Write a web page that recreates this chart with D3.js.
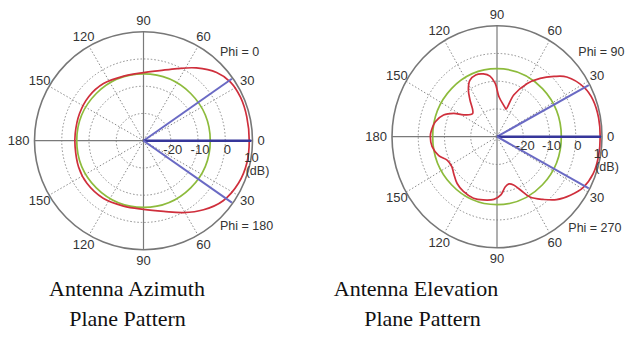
<!DOCTYPE html>
<html>
<head>
<meta charset="utf-8">
<script src="https://cdn.jsdelivr.net/npm/d3@7"></script>
<style>
  body { margin: 0; background: #fff; }
  svg { display: block; }
</style>
</head>
<body>
<svg width="633" height="345"></svg>
<script>
// angle tick labels going counter-clockwise from 0 deg (mirrored on lower half)
const angleTicks = [0, 30, 60, 90, 120, 150, 180, 210, 240, 270, 300, 330];
const angleLabels = ["0", "30", "60", "90", "120", "150", "180", "150", "120", "90", "60", "30"];
const ringTicks = [-20, -10, 0];
const radialLabels = ["-20", "-10", "0"];
const refLevel = -5.5;           // green reference circle, dB

// azimuth pattern (deg, dB)
const azAngles = [-175, -158, -143, -125, -107, -90, -74, -61, -49, -37, -24, -12,
                  0, 13, 24, 34, 43, 54, 65, 77, 90, 107, 125, 141, 157, 174];
const azGain = [-4.8, -4.3, -4.0, -4.2, -4.9, -4.8, -3.0, 0.2, 3.6, 6.6, 8.2, 8.8,
                8.8, 8.9, 9.0, 8.5, 6.7, 3.0, -0.8, -3.6, -5.0, -5.2, -4.4, -4.2, -4.5, -4.8];
const azBeams = [35, 0, -35];

// elevation pattern (deg, dB)
const elAngles = [-180, -172, -163, -156, -148, -141, -132, -123, -112, -103, -93, -86,
                  -80, -75, -70, -65, -60, -52, -45, -37, -29, -20, -10, 0, 10, 20, 28,
                  39, 45, 52, 59, 67, 71, 74, 87, 92, 97, 103, 110, 117, 123, 128, 138,
                  148, 153, 159, 167, 176];
const elGain = [-4.6, -5.0, -6.8, -9.2, -9.7, -8.8, -7.3, -6.5, -6.1, -6.6, -7.4, -9.0,
                -11.7, -12.4, -11.5, -8.8, -4.9, -1.3, 2.1, 5.0, 7.6, 9.0, 9.3, 9.3, 9.3, 8.9, 7.7,
                4.2, 0.7, -3.3, -7.6, -13.7, -19.5, -19.0, -15.6, -10.8, -8.0, -6.8, -6.3, -7.2, -10.0, -13.3, -17.5,
                -15.1, -11.5, -8.2, -5.9, -4.8];
const elBeams = [28, 0, -28];

const svg = d3.select("svg");
svg.append("rect").attr("width", 633).attr("height", 345).attr("fill", "#fff");

const r = d3.scaleLinear().domain([-30, 10]).range([0, 1]);
const rad = d => d * Math.PI / 180;

function polar(g, p) {
    const pt = (a, db) => [p.cx + p.rx * r(db) * Math.cos(rad(a)), p.cy - p.ry * r(db) * Math.sin(rad(a))];

    // dashed rings
    g.selectAll(".ring").data(ringTicks).enter().append("ellipse")
        .attr("cx", p.cx).attr("cy", p.cy)
        .attr("rx", d => p.rx * r(d)).attr("ry", d => p.ry * r(d))
        .attr("fill", "none").attr("stroke", "#8a8a8a")
        .attr("stroke-width", 1).attr("stroke-dasharray", "1.5,2");

    // dotted spokes
    g.selectAll(".spoke").data(angleTicks.filter(a => a % 90 !== 0)).enter().append("line")
        .attr("x1", p.cx).attr("y1", p.cy)
        .attr("x2", a => pt(a, 10)[0]).attr("y2", a => pt(a, 10)[1])
        .attr("stroke", "#8a8a8a").attr("stroke-width", 1).attr("stroke-dasharray", "1.5,2");

    // solid axes
    [[0, 180], [90, 270]].forEach(([a, b]) => {
        g.append("line")
            .attr("x1", pt(a, 10)[0]).attr("y1", pt(a, 10)[1])
            .attr("x2", pt(b, 10)[0]).attr("y2", pt(b, 10)[1])
            .attr("stroke", "#7a7a7a").attr("stroke-width", 1.2);
    });

    // outer circle
    g.append("ellipse")
        .attr("cx", p.cx).attr("cy", p.cy)
        .attr("rx", p.rx * r(10)).attr("ry", p.ry * r(10))
        .attr("fill", "none").attr("stroke", "#777").attr("stroke-width", 1.6);

    // reference circle
    g.append("ellipse")
        .attr("cx", p.cx).attr("cy", p.cy)
        .attr("rx", p.rx * r(refLevel)).attr("ry", p.ry * r(refLevel))
        .attr("fill", "none").attr("stroke", "#8dbb3c").attr("stroke-width", 1.7);

    // pattern
    const pts = p.angles.map((a, i) => pt(a, p.gain[i]));
    g.append("path")
        .attr("d", d3.line().curve(d3.curveCatmullRomClosed)(pts))
        .attr("fill", "none").attr("stroke", "#cf2f3c").attr("stroke-width", 1.7);

    // beam lines
    g.selectAll(".beam").data(p.beams).enter().append("line")
        .attr("x1", p.cx).attr("y1", p.cy)
        .attr("x2", a => pt(a, 9.6)[0]).attr("y2", a => pt(a, 9.6)[1])
        .attr("stroke", a => a === 0 ? "#36369a" : "#6a6ac4")
        .attr("stroke-width", a => a === 0 ? 2.6 : 2);

    // angle labels
    const R = 1.1;
    g.selectAll(".alab").data(angleTicks).enter().append("text")
        .attr("x", (a, i) => {
            if (a === 0) return p.cx + p.rx + 5;
            if (a === 180) return p.cx - p.rx - 5;
            return p.cx + p.rx * R * Math.cos(rad(a));
        })
        .attr("y", a => p.cy - p.ry * R * Math.sin(rad(a)))
        .attr("text-anchor", a => a === 0 ? "start" : a === 180 ? "end" : "middle")
        .attr("dominant-baseline", "central")
        .attr("font-family", "Liberation Sans, Arial, sans-serif")
        .attr("font-size", 13).attr("fill", "#333")
        .text((a, i) => angleLabels[i]);

    // radial labels
    g.selectAll(".rlab").data(ringTicks).enter().append("text")
        .attr("x", d => p.cx + p.rx * r(d) + 2)
        .attr("y", p.cy + 13)
        .attr("text-anchor", "middle")
        .attr("font-family", "Liberation Sans, Arial, sans-serif")
        .attr("font-size", 13).attr("fill", "#333")
        .text((d, i) => radialLabels[i]);
    g.append("text")
        .attr("x", p.cx + p.rx * r(10) - 1).attr("y", p.cy + 21)
        .attr("text-anchor", "middle")
        .attr("font-family", "Liberation Sans, Arial, sans-serif")
        .attr("font-size", 13).attr("fill", "#333").text("10");
    g.append("text")
        .attr("x", p.cx + p.rx * r(10) + 5).attr("y", p.cy + 34)
        .attr("text-anchor", "middle")
        .attr("font-family", "Liberation Sans, Arial, sans-serif")
        .attr("font-size", 12.5).attr("fill", "#333").text("(dB)");

    // phi labels
    p.phi.forEach(f => {
        g.append("text")
            .attr("x", p.cx + f.dx).attr("y", p.cy + f.dy)
            .attr("dominant-baseline", "central")
            .attr("font-family", "Liberation Sans, Arial, sans-serif")
            .attr("font-size", 12.5).attr("fill", "#333")
            .text(f.text);
    });

    // title
    p.title.forEach((t, i) => {
        g.append("text")
            .attr("x", t.x).attr("y", 296 + i * 30)
            .attr("text-anchor", "middle")
            .attr("font-family", "Liberation Serif, Times New Roman, serif")
            .attr("font-size", 22).attr("fill", "#111")
            .text(t.text);
    });
}

polar(svg.append("g"), {
    cx: 143.5, cy: 140.7, rx: 109, ry: 109,
    angles: azAngles, gain: azGain, beams: azBeams,
    phi: [{ text: "Phi = 0", dx: 76.5, dy: -89 }, { text: "Phi = 180", dx: 76.5, dy: 85.3 }],
    title: [{ text: "Antenna Azimuth", x: 127 }, { text: "Plane Pattern", x: 127.5 }]
});

polar(svg.append("g"), {
    cx: 497, cy: 136.7, rx: 105, ry: 111,
    angles: elAngles, gain: elGain, beams: elBeams,
    phi: [{ text: "Phi = 90", dx: 81.3, dy: -85 }, { text: "Phi = 270", dx: 71.3, dy: 91.6 }],
    title: [{ text: "Antenna Elevation", x: 416 }, { text: "Plane Pattern", x: 422.5 }]
});
</script>
</body>
</html>
